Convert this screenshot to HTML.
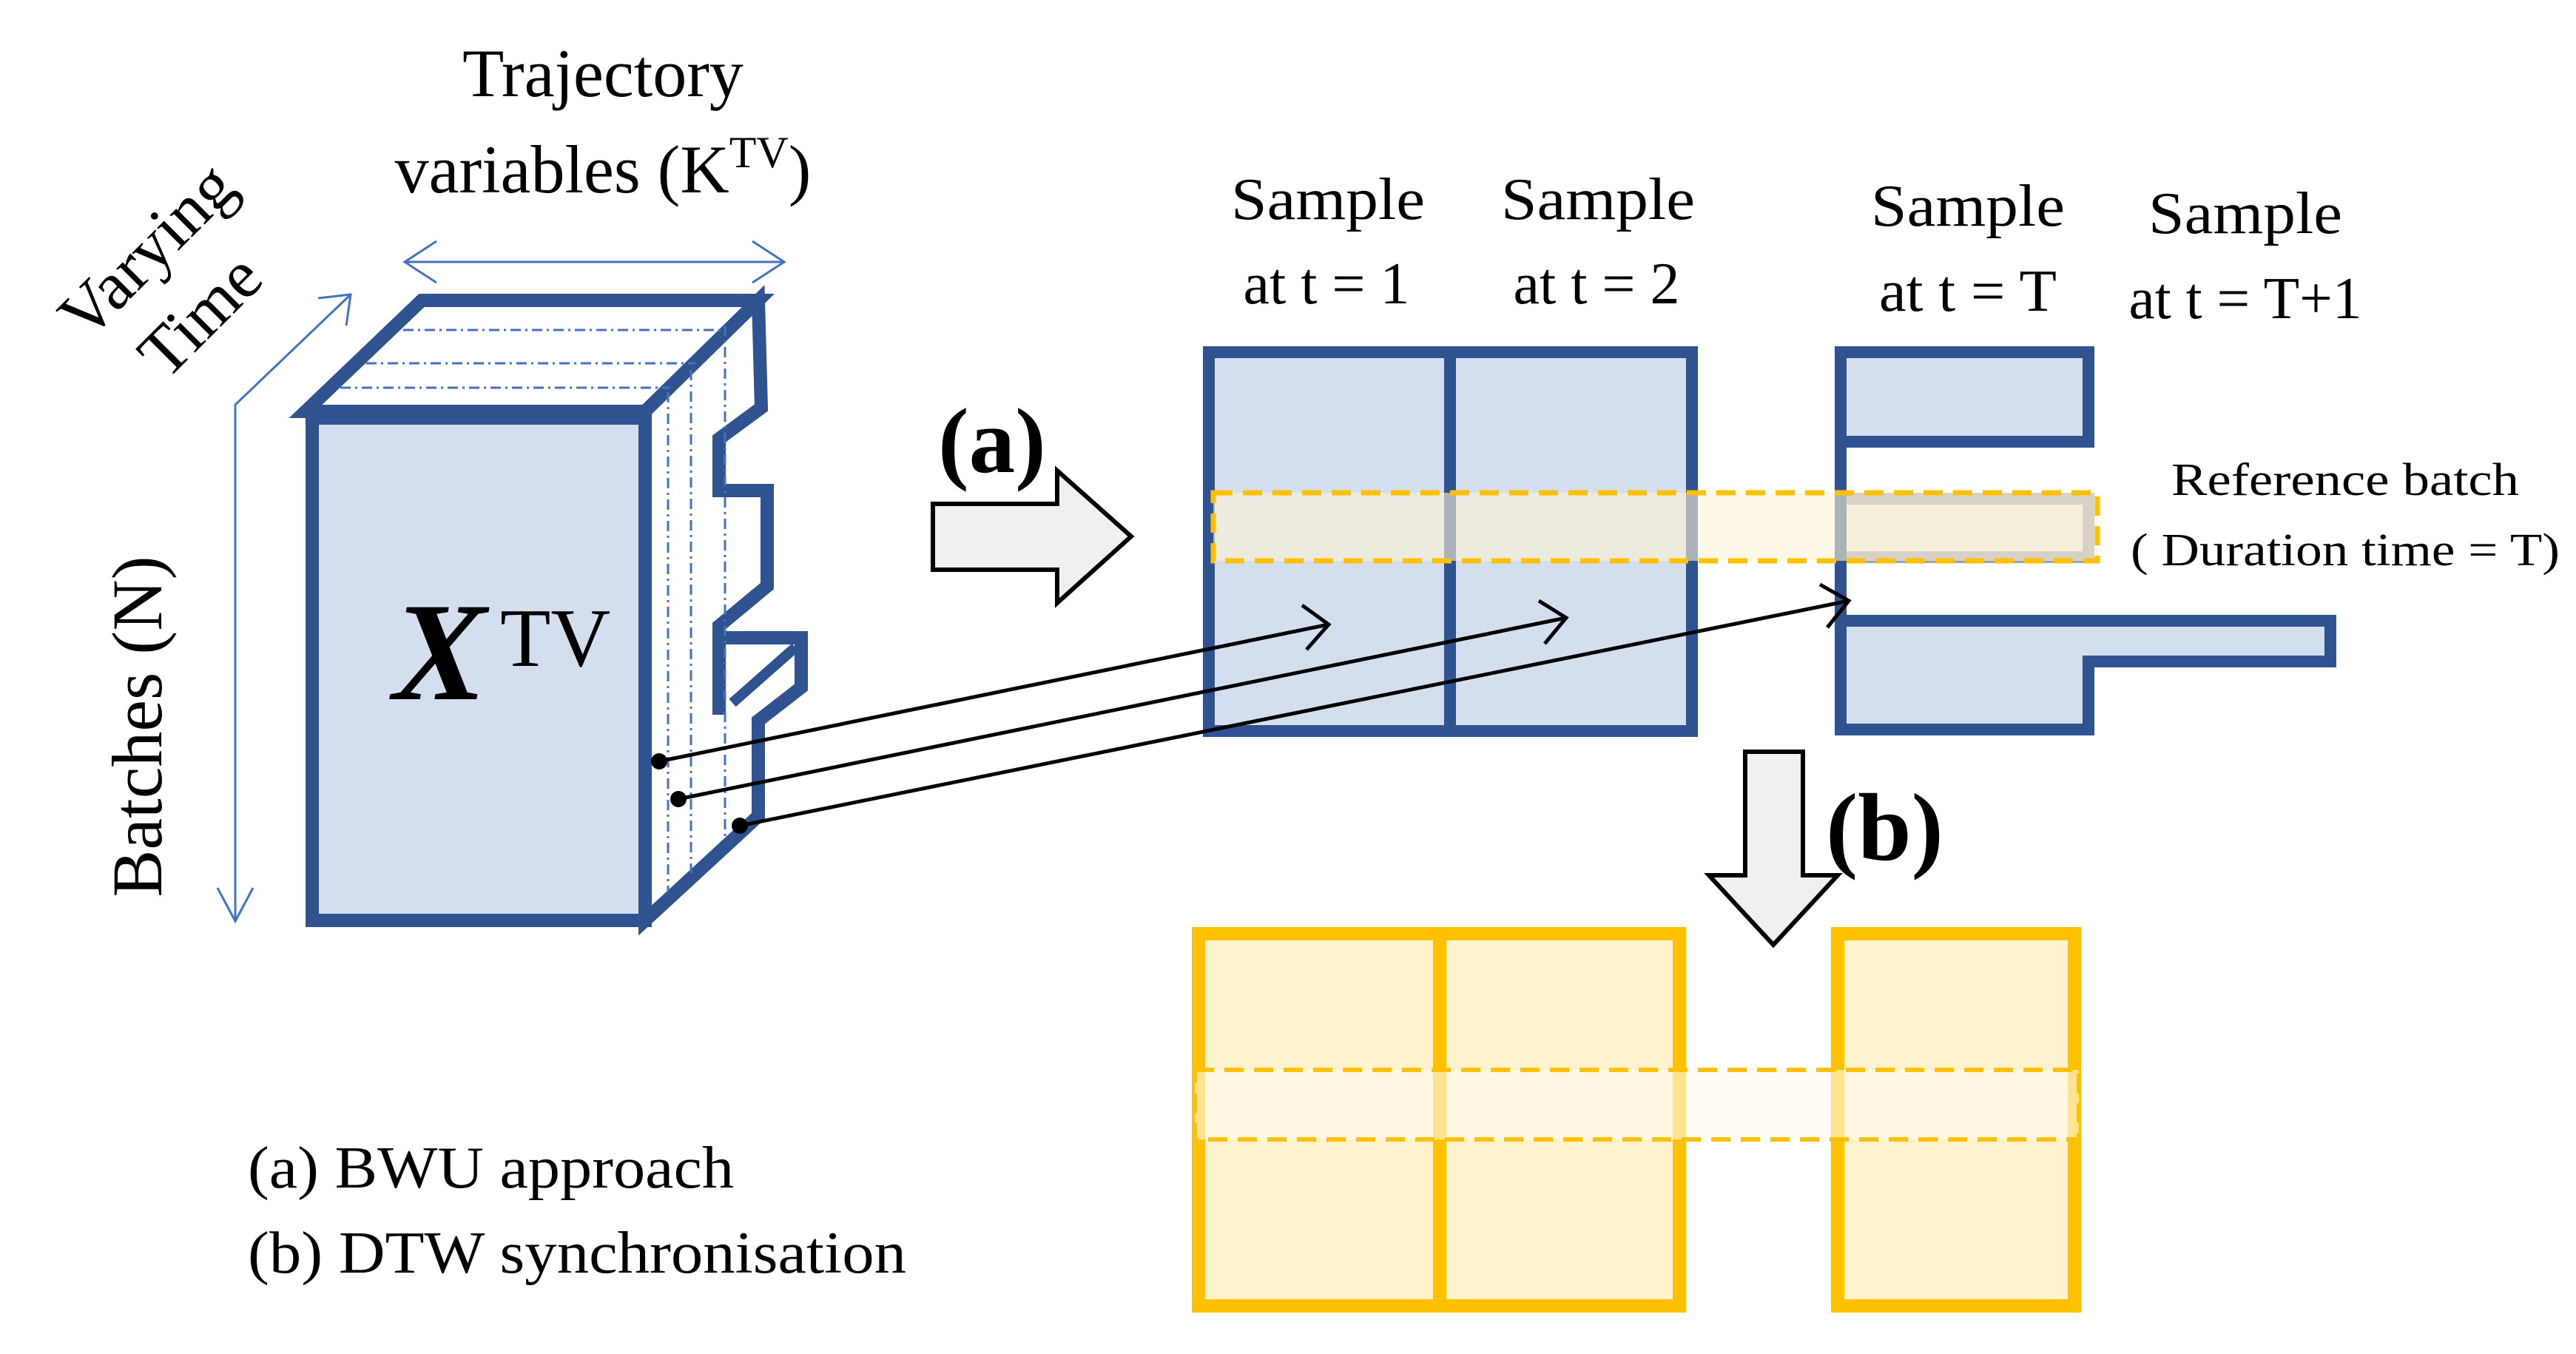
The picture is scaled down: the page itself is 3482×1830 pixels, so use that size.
<!DOCTYPE html>
<html><head><meta charset="utf-8"><style>
html,body{margin:0;padding:0;background:#fff;}
svg{display:block;}
text{font-family:"Liberation Serif",serif;fill:#000;}
</style></head><body>
<svg width="3482" height="1830" viewBox="0 0 3482 1830" xmlns="http://www.w3.org/2000/svg">

<text x="815" y="130" font-size="92" text-anchor="middle">Trajectory</text>
<text x="815" y="260" font-size="92" text-anchor="middle">variables (K<tspan font-size="60" dy="-34">TV</tspan><tspan dy="34">)</tspan></text>
<text x="0" y="0" font-size="92" text-anchor="middle" transform="translate(220,360) rotate(-45)">Varying</text>
<text x="0" y="0" font-size="92" text-anchor="middle" transform="translate(292,448) rotate(-45)">Time</text>
<text x="0" y="0" font-size="96" text-anchor="middle" transform="translate(218,982) rotate(-90)">Batches (N)</text>

<g stroke="#4472c4" stroke-width="3" fill="none">
<line x1="547" y1="354" x2="1060" y2="354"/>
<polyline points="590,326 547,354 590,382"/>
<polyline points="1017,326 1060,354 1017,382"/>
<polyline points="474,398 318,547 318,1245"/>
<polyline points="430,403 474,398 468,440"/>
<polyline points="294,1200 318,1245 342,1200"/>
</g>

<g stroke="#2f5290" stroke-width="18" stroke-linejoin="miter">
<polygon points="413,556 570,406 1025,406 872,556" fill="#fff"/>
<polygon points="872,556 1025,406 1029,551 972,593 972,663 1037,663 1037,792 972,846 972,862 1083,862 1083,929 1025,974 1025,1103 872,1244" fill="#fff"/>
<line x1="972" y1="862" x2="972" y2="966"/>
<line x1="990" y1="950" x2="1075" y2="875" stroke-width="14"/>
<rect x="422" y="565" width="450" height="679" fill="#d3deee"/>
</g>
<g stroke="#4472c4" stroke-width="3" stroke-dasharray="14,6,3,6" fill="none">
<line x1="545" y1="446" x2="975" y2="446"/>
<line x1="495" y1="491" x2="940" y2="491"/>
<line x1="460" y1="524" x2="905" y2="524"/>
<line x1="903" y1="530" x2="903" y2="1205"/>
<line x1="934" y1="500" x2="934" y2="1180"/>
<line x1="980" y1="440" x2="980" y2="1130"/>
</g>
<text x="531" y="945" font-size="190" font-style="italic" font-weight="bold">X</text>
<text x="676" y="900" font-size="112">TV</text>

<polygon points="1261,681 1429,681 1429,636 1529,725 1429,815 1429,770 1261,770" fill="#f0f0f0" stroke="#000" stroke-width="6"/>
<text x="1268" y="638" font-size="125" font-weight="bold">(a)</text>

<g font-size="80" text-anchor="middle">
<text x="1795" y="296" textLength="262" lengthAdjust="spacingAndGlyphs">Sample</text><text x="1793" y="410" textLength="225" lengthAdjust="spacingAndGlyphs">at t = 1</text>
<text x="2160" y="296" textLength="262" lengthAdjust="spacingAndGlyphs">Sample</text><text x="2158" y="410" textLength="225" lengthAdjust="spacingAndGlyphs">at t = 2</text>
<text x="2660" y="305" textLength="262" lengthAdjust="spacingAndGlyphs">Sample</text><text x="2660" y="420" textLength="240" lengthAdjust="spacingAndGlyphs">at t = T</text>
<text x="3035" y="315" textLength="262" lengthAdjust="spacingAndGlyphs">Sample</text><text x="3035" y="430" textLength="315" lengthAdjust="spacingAndGlyphs">at t = T+1</text>
</g>

<g stroke="#2f5290" stroke-width="16" fill="#d3deee">
<rect x="1634" y="476" width="653" height="512"/>
<line x1="1960" y1="476" x2="1960" y2="988"/>
<rect x="2488" y="476" width="335" height="121"/>
<rect x="2488" y="674" width="335" height="79" stroke="#9aa4ae" fill="#e8e8de"/>
<polygon points="2488,839 3150,839 3150,894 2823,894 2823,986 2488,986"/>
<line x1="2488" y1="476" x2="2488" y2="986"/>
</g>

<rect x="1640" y="666" width="1195" height="92" fill="#fff3d6" fill-opacity="0.6" stroke="#ffc000" stroke-width="7" stroke-dasharray="26,14"/>
<text x="3170" y="669" font-size="62" text-anchor="middle" textLength="470" lengthAdjust="spacingAndGlyphs">Reference batch</text>
<text x="3170" y="764" font-size="62" text-anchor="middle" textLength="580" lengthAdjust="spacingAndGlyphs">( Duration time = T)</text>

<g stroke="#000" stroke-width="5" fill="none">
<line x1="891" y1="1029" x2="1796" y2="844"/>
<line x1="917" y1="1080" x2="2117" y2="835"/>
<line x1="1000" y1="1116" x2="2499" y2="812"/>
<polyline points="1760,818 1796,844 1766,878"/>
<polyline points="2080,812 2117,835 2088,870"/>
<polyline points="2460,790 2499,812 2470,848"/>
</g>
<circle cx="891" cy="1029" r="11" fill="#000"/>
<circle cx="917" cy="1080" r="11" fill="#000"/>
<circle cx="1000" cy="1116" r="11" fill="#000"/>

<polygon points="2359,1016 2437,1016 2437,1183 2484,1183 2397,1277 2310,1183 2359,1183" fill="#f0f0f0" stroke="#000" stroke-width="6"/>
<text x="2468" y="1162" font-size="130" font-weight="bold">(b)</text>

<g stroke="#ffc000" stroke-width="18" fill="#fff2cc">
<rect x="1620" y="1262" width="650" height="503"/>
<line x1="1946" y1="1262" x2="1946" y2="1765"/>
<rect x="2484" y="1262" width="320" height="503"/>
</g>
<rect x="1615" y="1446" width="1195" height="94" fill="#fffaf0" fill-opacity="0.6" stroke="#ffc000" stroke-width="6" stroke-dasharray="26,14"/>

<text x="335" y="1605" font-size="80" textLength="657" lengthAdjust="spacingAndGlyphs">(a) BWU approach</text>
<text x="335" y="1720" font-size="80" textLength="890" lengthAdjust="spacingAndGlyphs">(b) DTW synchronisation</text>
</svg>
</body></html>
